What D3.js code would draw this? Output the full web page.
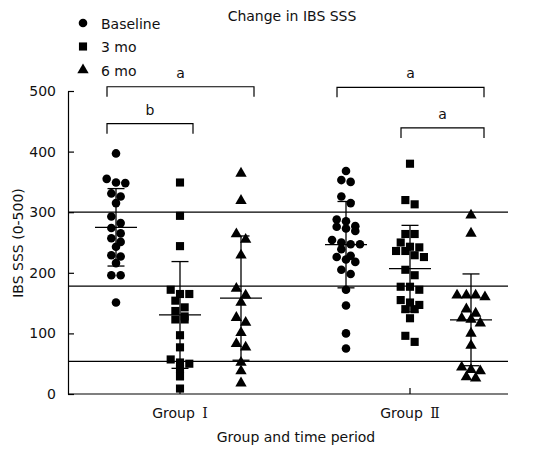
<!DOCTYPE html>
<html>
<head>
<meta charset="utf-8">
<script src="https://cdn.jsdelivr.net/npm/d3@7"></script>
<style>
  html, body { margin: 0; padding: 0; background: #fff; }
  text { font-family: "DejaVu Sans", Verdana, sans-serif; fill: #111; }
</style>
</head>
<body>
<svg id="chart" width="550" height="452"></svg>
<script>
// ---------- data ----------
const groups = ["Group Ⅰ", "Group Ⅱ"];
const times = ["Baseline", "3 mo", "6 mo"];
const yTicks = [0, 100, 200, 300, 400, 500];

const g1Baseline = [397, 355, 348, 349, 331, 326, 315, 293, 282, 265, 274, 257, 251, 243, 229, 227, 216, 196, 196, 151];
const g1Month3 = [349, 294, 244, 172, 165, 165, 154, 143, 137, 128, 123, 123, 97, 77, 57, 52, 50, 41, 29, 9];
const g1Month6 = [364, 319, 264, 255, 229, 174, 163, 151, 126, 118, 101, 83, 77, 52, 38, 18];
const g2Baseline = [368, 353, 350, 326, 315, 288, 285, 277, 276, 273, 269, 254, 250, 247, 247, 239, 228, 226, 222, 218, 205, 198, 172, 146, 100, 75];
const g2Month3 = [380, 320, 313, 264, 264, 250, 243, 242, 236, 236, 229, 226, 205, 196, 177, 177, 172, 155, 151, 147, 140, 140, 125, 96, 86];
const g2Month6 = [295, 265, 163, 163, 163, 160, 140, 133, 125, 123, 117, 100, 80, 44, 40, 38, 28, 26];

const seriesValues = [
  [g1Baseline, g1Month3, g1Month6],
  [g2Baseline, g2Month3, g2Month6]
];

// horizontal reference lines across the plot
const refLines = [300, 178, 54];

// significance brackets
const bracketGroup = ["Group Ⅰ", "Group Ⅰ", "Group Ⅱ", "Group Ⅱ"];
const bracketFrom = ["Baseline", "Baseline", "Baseline", "3 mo"];
const bracketTo = ["6 mo", "3 mo", "6 mo", "6 mo"];
const bracketLevel = [507, 446, 506, 439];
const bracketLabel = ["a", "b", "a", "a"];

// ---------- layout ----------
const svg = d3.select("#chart");
const plotLeft = 68, plotRight = 508, plotTop = 91, plotBottom = 394;

const y = d3.scaleLinear().domain([0, 500]).range([plotBottom, plotTop]);
const xGroup = d3.scalePoint().domain(groups).range([180, 410]);
const xTime = d3.scaleOrdinal().domain(times).range([-64, 0, 61]);
const colX = (g, t) => xGroup(g) + xTime(t);

const shape = d3.scaleOrdinal().domain(times).range([d3.symbolCircle, d3.symbolSquare, d3.symbolTriangle]);
const shapeSize = d3.scaleOrdinal().domain(times).range([58, 66, 56]);

// reference lines
svg.append("g").selectAll("line").data(refLines).join("line")
  .attr("x1", plotLeft).attr("x2", plotRight)
  .attr("y1", d => y(d)).attr("y2", d => y(d))
  .attr("stroke", "#000").attr("stroke-width", 1.2);

// y axis (inward ticks)
const yAxis = d3.axisLeft(y).tickValues(yTicks).tickSizeInner(-6).tickSizeOuter(0).tickPadding(12);
const yg = svg.append("g").attr("transform", `translate(${plotLeft},0)`).call(yAxis);
yg.selectAll("text").style("font-family", "DejaVu Sans").style("font-size", "14px").attr("fill", "#111");
yg.selectAll("line, path").attr("stroke", "#000").attr("stroke-width", 1.2);

// x axis line and ticks
svg.append("line").attr("x1", plotLeft).attr("x2", plotRight)
  .attr("y1", y(0)).attr("y2", y(0)).attr("stroke", "#000").attr("stroke-width", 1.2);
svg.append("g").selectAll("line").data(groups).join("line")
  .attr("x1", d => xGroup(d)).attr("x2", d => xGroup(d))
  .attr("y1", y(0)).attr("y2", y(0) - 6)
  .attr("stroke", "#000").attr("stroke-width", 1.2);

// group labels
const gl = svg.append("g").selectAll("text").data(groups).join("text")
  .attr("x", d => xGroup(d)).attr("y", 418)
  .attr("text-anchor", "middle").style("font-size", "14px");
gl.append("tspan").text(d => d.split(" ")[0] + " ");
gl.append("tspan").style("font-family", "'DejaVu Serif', 'Liberation Serif', serif")
  .attr("dx", 3).text(d => d.split(" ")[1]);

// axis titles
svg.append("text").attr("x", 296).attr("y", 442).attr("text-anchor", "middle")
  .style("font-size", "14px").text("Group and time period");
svg.append("text").attr("transform", `translate(23,243) rotate(-90)`).attr("text-anchor", "middle")
  .style("font-size", "14px").text("IBS SSS (0-500)");
svg.append("text").attr("x", 292).attr("y", 21).attr("text-anchor", "middle")
  .style("font-size", "14px").text("Change in IBS SSS");

// beeswarm-like row layout
function swarm(values, cx) {
  const step = 9.3, rowH = 7;
  const sorted = values.map(v => ({ v, py: y(v) })).sort((a, b) => a.py - b.py);
  const rows = [];
  sorted.forEach(p => {
    const last = rows[rows.length - 1];
    if (last && p.py - last[0].py < rowH) last.push(p); else rows.push([p]);
  });
  const out = [];
  rows.forEach(r => {
    const n = r.length;
    r.forEach((p, i) => out.push({ v: p.v, x: cx + (i - (n - 1) / 2) * step, y: p.py }));
  });
  return out;
}

const pts = svg.append("g");
const bars = svg.append("g");
groups.forEach((g, gi) => {
  times.forEach((t, ti) => {
    const vals = seriesValues[gi][ti];
    const cx = colX(g, t);
    const placed = swarm(vals, cx);
    pts.selectAll(null).data(placed).join("path")
      .attr("transform", d => `translate(${d.x},${d.y})`)
      .attr("d", d3.symbol(shape(t), shapeSize(t)))
      .attr("fill", "#000");
    const m = d3.mean(vals), sd = d3.deviation(vals);
    bars.append("line").attr("x1", cx).attr("x2", cx).attr("y1", y(m + sd)).attr("y2", y(m - sd))
      .attr("stroke", "#000").attr("stroke-width", 1.3);
    [m + sd, m - sd].forEach(v => bars.append("line")
      .attr("x1", cx - 8.5).attr("x2", cx + 8.5).attr("y1", y(v)).attr("y2", y(v))
      .attr("stroke", "#000").attr("stroke-width", 1.3));
    bars.append("line").attr("x1", cx - 21).attr("x2", cx + 21).attr("y1", y(m)).attr("y2", y(m))
      .attr("stroke", "#000").attr("stroke-width", 1.3);
  });
});

// brackets
const br = svg.append("g");
bracketGroup.forEach((g, i) => {
  const x1 = colX(g, bracketFrom[i]) - 9, x2 = colX(g, bracketTo[i]) + 13;
  const yl = y(bracketLevel[i]);
  br.append("path").attr("d", `M${x1},${yl + 10}V${yl}H${x2}V${yl + 10}`)
    .attr("fill", "none").attr("stroke", "#000").attr("stroke-width", 1.2);
  br.append("text").attr("x", (x1 + x2) / 2).attr("y", yl - 9).attr("text-anchor", "middle")
    .style("font-size", "14px").text(bracketLabel[i]);
});

// legend
const lg = svg.append("g").selectAll("g").data(times).join("g")
  .attr("transform", (d, i) => `translate(83,${23 + i * 23.5})`);
lg.append("path").attr("d", d => d3.symbol(shape(d), shapeSize(d))()).attr("fill", "#000");
lg.append("text").attr("x", 18).attr("y", 5.5).style("font-size", "14px").text(d => d);
</script>
</body>
</html>
